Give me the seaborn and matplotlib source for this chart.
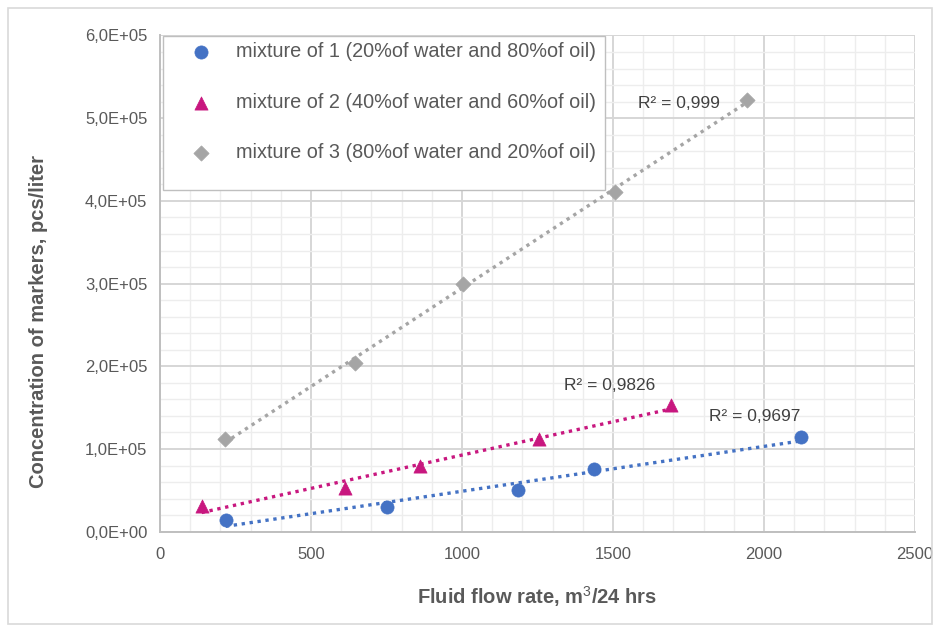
import numpy as np
import pandas as pd
import matplotlib
matplotlib.use("Agg")
import matplotlib.pyplot as plt
import seaborn as sns
from matplotlib.ticker import MultipleLocator, FixedLocator, FixedFormatter
from matplotlib.patches import Rectangle

# ---------------- data ----------------
series_names = [
    "mixture of 1 (20%of water and 80%of oil)",
    "mixture of 2 (40%of water and 60%of oil)",
    "mixture of 3 (80%of water and 20%of oil)",
]
flow_1 = [218, 753, 1184, 1437, 2123]
conc_1 = [14100, 29500, 50400, 75400, 114100]
flow_2 = [138, 613, 861, 1255, 1691]
conc_2 = [31000, 52500, 79400, 111700, 153200]
flow_3 = [215, 646, 1004, 1507, 1943]
conc_3 = [111700, 203600, 299500, 411100, 522000]
r2_labels = ["R\u00b2 = 0,9697", "R\u00b2 = 0,9826", "R\u00b2 = 0,999"]

x_ticks = [0, 500, 1000, 1500, 2000, 2500]
x_tick_labels = ["0", "500", "1000", "1500", "2000", "2500"]
y_ticks = [0, 100000, 200000, 300000, 400000, 500000, 600000]
y_tick_labels = ["0,0E+00", "1,0E+05", "2,0E+05", "3,0E+05", "4,0E+05", "5,0E+05", "6,0E+05"]

x_label = "Fluid flow rate, m$^3$/24 hrs"
y_label = "Concentration of markers, pcs/liter"

# ---------------- style ----------------
sns.set_theme(style="white")
plt.rcParams["font.family"] = ["Liberation Sans", "DejaVu Sans"]
plt.rcParams["mathtext.fontset"] = "custom"
plt.rcParams["mathtext.rm"] = "Liberation Sans"
plt.rcParams["mathtext.bf"] = "Liberation Sans:bold"

colors = ["#4472C4", "#C8177F", "#A5A5A5"]
markers = ["o", "^", "D"]
msizes = [90, 90, 60]
text_c = "#595959"

frames = []
for name, xs, ys in [(series_names[0], flow_1, conc_1),
                     (series_names[1], flow_2, conc_2),
                     (series_names[2], flow_3, conc_3)]:
    frames.append(pd.DataFrame({"flow": xs, "conc": ys, "series": name}))
df = pd.concat(frames, ignore_index=True)

fig = plt.figure(figsize=(9.35, 6.28), dpi=100)
ax = fig.add_axes([0.1711, 0.1533, 0.8075, 0.7902])

# outer chart border
fig.patches.append(Rectangle((8 / 935, 4 / 628), 924 / 935, 616 / 628,
                             transform=fig.transFigure, fill=False,
                             edgecolor="#D9D9D9", linewidth=1.2, zorder=0))

for i, name in enumerate(series_names):
    sub = df[df["series"] == name]
    sns.regplot(data=sub, x="flow", y="conc", ax=ax, scatter=False, ci=None,
                truncate=True,
                line_kws=dict(color=colors[i], linestyle=(0, (1, 1.4)),
                              linewidth=2.4, zorder=3))
for i, name in enumerate(series_names):
    sub = df[df["series"] == name]
    sns.scatterplot(data=sub, x="flow", y="conc", ax=ax, color=colors[i],
                    marker=markers[i], s=msizes[i], edgecolor=colors[i],
                    linewidth=0.5, label=name, zorder=4)

ax.set_xlim(0, 2500)
ax.set_ylim(0, 600000)
ax.xaxis.set_major_locator(FixedLocator(x_ticks))
ax.xaxis.set_major_formatter(FixedFormatter(x_tick_labels))
ax.yaxis.set_major_locator(FixedLocator(y_ticks))
ax.yaxis.set_major_formatter(FixedFormatter(y_tick_labels))
ax.xaxis.set_minor_locator(MultipleLocator(100))
ax.yaxis.set_minor_locator(MultipleLocator(20000))

ax.grid(which="major", color="#D6D6D6", linewidth=1.4, zorder=0)
ax.grid(which="minor", color="#EDEDED", linewidth=1.0, zorder=0)
ax.set_axisbelow(True)

for side in ["top", "right"]:
    ax.spines[side].set_visible(False)
for side in ["left", "bottom"]:
    ax.spines[side].set_color("#BFBFBF")
    ax.spines[side].set_linewidth(1.4)

ax.tick_params(axis="both", which="major", direction="out", length=5,
               width=1.0, color="#BFBFBF", labelsize=12, labelcolor=text_c)
ax.tick_params(axis="both", which="minor", length=0)
ax.tick_params(axis="x", pad=6)
ax.tick_params(axis="y", pad=4)

ax.set_xlabel(x_label, fontsize=14.5, fontweight="bold", color=text_c, labelpad=16)
ax.set_ylabel(y_label, fontsize=14.5, fontweight="bold", color=text_c)
ax.yaxis.set_label_coords(-0.148, 0.423)

# R^2 annotations
ax.text(1970, 139000, r2_labels[0], fontsize=12.5, color="#404040", ha="center", va="center")
ax.text(1490, 177000, r2_labels[1], fontsize=12.5, color="#404040", ha="center", va="center")
ax.text(1720, 518000, r2_labels[2], fontsize=12.5, color="#404040", ha="center", va="center")

# legend box (Excel-style, with extra space at the bottom)
ax.add_patch(Rectangle((0.004, 0.689), 0.585, 0.309, transform=ax.transAxes,
                       facecolor="white", edgecolor="#BFBFBF", linewidth=1.0,
                       zorder=5))
leg = ax.legend(loc="upper left", bbox_to_anchor=(0.028, 0.986), frameon=False,
                fontsize=14.3, labelspacing=1.58, borderpad=0,
                handletextpad=0.75, borderaxespad=0, markerscale=1.0,
                handlelength=2.0)
leg.set_zorder(6)
for t in leg.get_texts():
    t.set_color(text_c)

fig.savefig("out.png", dpi=100)
